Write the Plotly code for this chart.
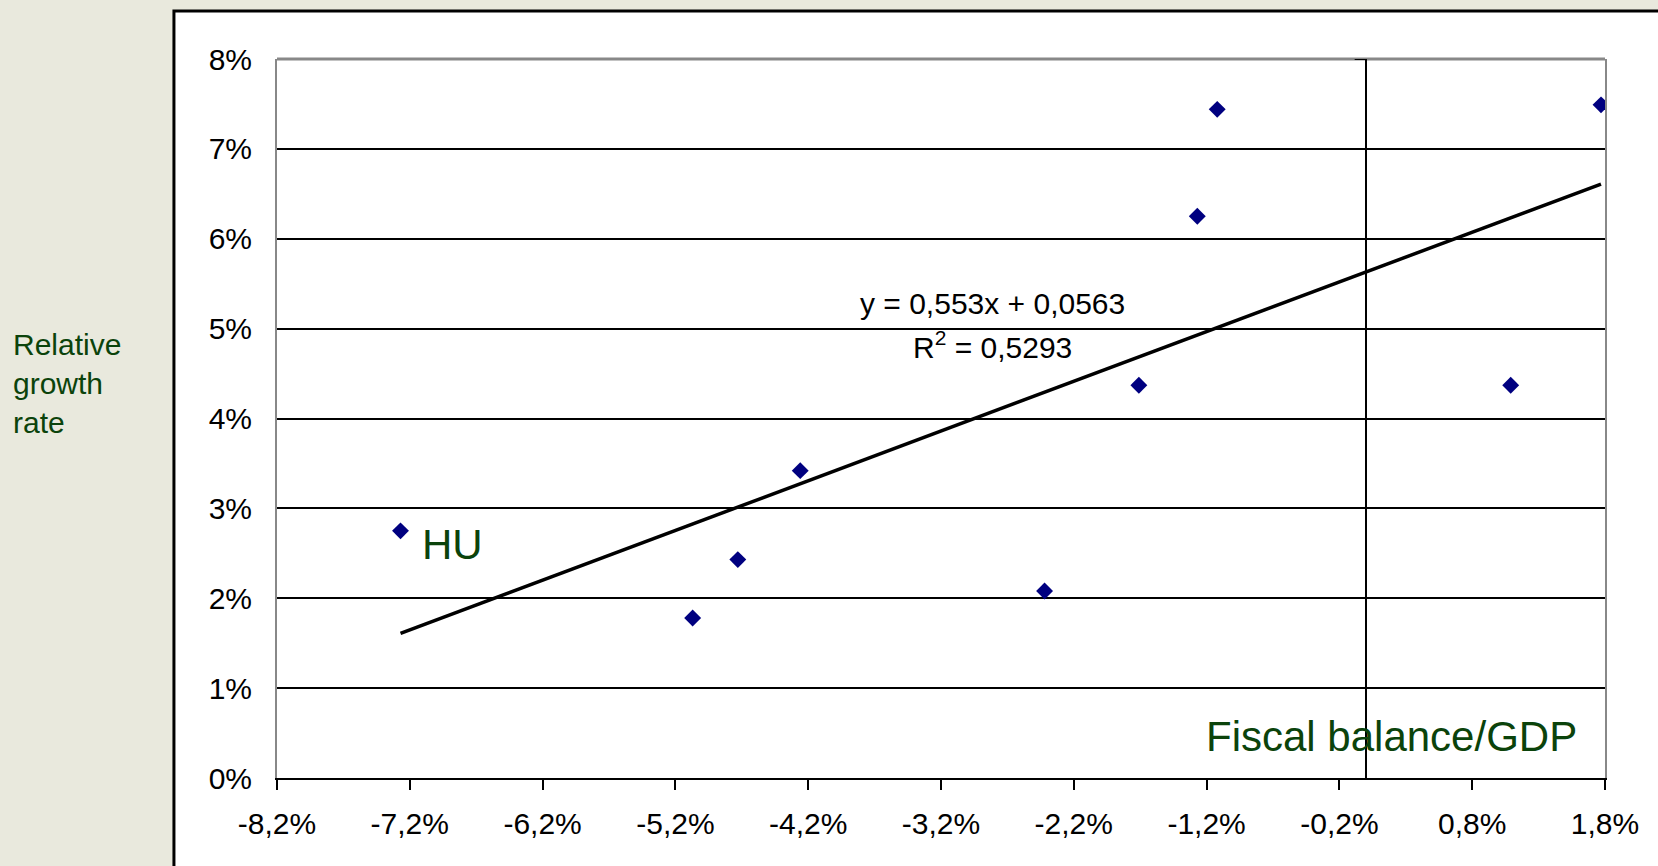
import plotly.graph_objects as go

# Data (percent units)
fiscal_balance = [-7.27, -5.07, -4.73, -4.26, -2.42, -1.71, -1.27, -1.12, 1.09, 1.77]
growth_rate = [2.75, 1.78, 2.43, 3.42, 2.08, 4.37, 6.25, 7.44, 4.37, 7.49]
x_tick_values = [-8.2, -7.2, -6.2, -5.2, -4.2, -3.2, -2.2, -1.2, -0.2, 0.8, 1.8]
x_tick_labels = ["-8,2%", "-7,2%", "-6,2%", "-5,2%", "-4,2%", "-3,2%",
                 "-2,2%", "-1,2%", "-0,2%", "0,8%", "1,8%"]
y_tick_values = [0, 1, 2, 3, 4, 5, 6, 7, 8]
y_tick_labels = ["0%", "1%", "2%", "3%", "4%", "5%", "6%", "7%", "8%"]
trend_slope = 0.553
trend_intercept = 0.0563
r_squared = 0.5293

x = [v / 100 for v in fiscal_balance]
y = [v / 100 for v in growth_rate]
tx = [min(x), max(x)]
ty = [trend_slope * v + trend_intercept for v in tx]

FONT = "Liberation Sans, Arial, sans-serif"
GREEN = "#0b430b"

fig = go.Figure()
fig.add_trace(go.Scatter(x=tx, y=ty, mode="lines",
                         line=dict(color="black", width=3.5), hoverinfo="skip"))
fig.add_trace(go.Scatter(x=x, y=y, mode="markers",
                         marker=dict(symbol="diamond", size=13, color="#000080",
                                     line=dict(width=0))))

fig.update_layout(
    width=1658, height=866,
    margin=dict(l=277, r=53, t=59, b=88),
    paper_bgcolor="#e9e9dd", plot_bgcolor="white",
    showlegend=False,
    font=dict(family=FONT, size=30, color="black"),
)
fig.update_xaxes(
    range=[-0.082, 0.018],
    tickvals=[v / 100 for v in x_tick_values], ticktext=x_tick_labels,
    showgrid=False, zeroline=True, zerolinecolor="black", zerolinewidth=2,
    showline=True, linecolor="black", linewidth=2,
    ticks="outside", ticklen=10, tickwidth=2, tickcolor="black",
    ticklabelstandoff=8, tickfont=dict(size=30, family=FONT),
)
fig.update_yaxes(
    range=[0, 0.08],
    tickvals=[v / 100 for v in y_tick_values], ticktext=y_tick_labels,
    showgrid=True, gridcolor="black", gridwidth=2, zeroline=False,
    showline=True, linecolor="#888888", linewidth=2, mirror=True,
    ticks="", ticklabelstandoff=17, tickfont=dict(size=30, family=FONT),
)

# white framed panel
fig.add_shape(type="rect", xref="paper", yref="paper",
              x0=-0.0776, x1=1.3, y0=-0.4, y1=1.0668,
              fillcolor="white", line=dict(color="black", width=3), layer="below")
# grey top border of plot area
fig.add_shape(type="line", xref="paper", yref="paper", x0=0, x1=1, y0=1, y1=1,
              line=dict(color="#888888", width=3), layer="between")
# small tick at top of vertical axis line
fig.add_shape(type="line", xref="x", yref="y", x0=-0.00085, x1=0, y0=0.08, y1=0.08,
              line=dict(color="black", width=2), layer="between")

fig.add_annotation(x=-0.02816, y=0.05284, xref="x", yref="y", showarrow=False,
                   text=f"y = {str(trend_slope).replace('.', ',')}x + {str(trend_intercept).replace('.', ',')}",
                   font=dict(size=30, family=FONT, color="black"))
fig.add_annotation(x=-0.02816, y=0.04816, xref="x", yref="y", showarrow=False,
                   text=f"R<sup>2</sup> = {str(r_squared).replace('.', ',')}",
                   font=dict(size=30, family=FONT, color="black"))
fig.add_annotation(x=-0.0688, y=0.0260, xref="x", yref="y", showarrow=False,
                   text="HU", font=dict(size=42, family=FONT, color=GREEN))
fig.add_annotation(x=0.00196, y=0.0046, xref="x", yref="y", showarrow=False,
                   text="Fiscal balance/GDP", font=dict(size=42, family=FONT, color=GREEN))
fig.add_annotation(x=-0.2, y=0.549, xref="paper", yref="paper", showarrow=False,
                   xanchor="left", align="left",
                   text="Relative<br>growth<br>rate", font=dict(size=30, family=FONT, color=GREEN))

fig.write_html("out.html", config={"displayModeBar": False},
               post_script="document.body.style.margin='0';")
